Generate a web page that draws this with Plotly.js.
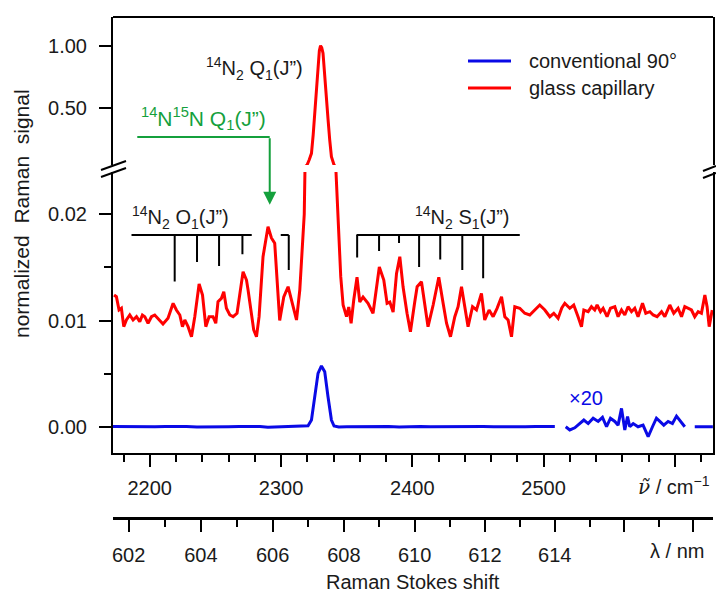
<!DOCTYPE html>
<html><head><meta charset="utf-8">
<script src="https://cdn.plot.ly/plotly-3.0.1.min.js"></script>
<style>html,body{margin:0;padding:0;background:#fff}</style>
</head><body><div id="chart" style="width:716px;height:592px"></div>
<script>
// ---------- data ----------
const redNu = [
2172.8,2174.6,2176.6,2178.4,2180.2,2182.2,2184.8,2187.3,2189.9,2192.4,
2194.4,2196.2,2198.7,2201.3,2203.8,2207.1,2210.1,2213.9,2217.8,2220.3,
2222.9,2224.9,2226.7,2229.2,2231.8,2234.3,2237.6,2240.2,2242.7,2245.2,
2248.2,2250.3,2252.0,2254.6,2256.4,2258.4,2261.0,2263.5,2266.5,2271.1,
2273.7,2274.9,2277.5,2279.2,2281.3,2283.3,2286.3,2290.1,2292.7,2295.2,
2299.0,2302.1,2305.4,2308.7,2311.8,2314.3,2316.2,2317.7,2319.0,2319.9,
2321.5,2323.2,2324.5,2325.7,2327.0,2328.2,2329.2,2330.1,2331.0,2332.0,
2333.3,2334.6,2335.8,2337.1,2338.4,2340.4,2341.7,2343.6,2345.5,2347.3,
2349.9,2351.6,2353.4,2355.4,2357.9,2360.0,2362.5,2366.3,2370.1,2374.9,
2378.3,2380.8,2382.9,2385.4,2388.0,2390.5,2393.0,2396.0,2398.6,2401.9,
2403.7,2407.0,2409.5,2412.0,2415.9,2420.2,2423.5,2426.1,2429.1,2432.4,
2434.9,2437.5,2440.0,2442.5,2445.9,2448.9,2452.7,2455.2,2458.5,2461.6,
2464.6,2468.0,2470.5,2473.0,2475.6,2478.1,2481.9,2485.7,2489.5,2493.3,
2497.1,2501.0,2504.8,2507.8,2511.1,2513.9,2516.2,2520.0,2523.0,2526.3,
2528.9,2530.7,2534.0,2536.5,2539.0,2540.8,2543.4,2545.4,2548.4,2551.0,
2554.3,2556.8,2559.4,2561.9,2564.4,2567.0,2569.5,2572.0,2575.4,2577.9,
2581.0,2583.5,2586.5,2589.9,2592.4,2596.2,2599.2,2602.5,2605.1,2607.6,
2610.2,2612.7,2615.2,2617.8,2620.3,2622.9,2624.6,2626.2,2628.5];
const redVal = [
0.01240,0.01224,0.01099,0.01115,0.00942,0.01005,0.01052,0.01005,0.01036,0.00989,
0.01052,0.01036,0.00974,0.01036,0.01052,0.01005,0.00967,0.01021,0.01162,0.01099,
0.01052,0.00942,0.01005,0.00942,0.00847,0.01036,0.01344,0.01240,0.00942,0.01036,
0.01036,0.00974,0.01177,0.01209,0.01271,0.01115,0.01052,0.01036,0.01068,0.01459,
0.01381,0.01287,0.01036,0.00911,0.00847,0.01036,0.01601,0.01883,0.01777,0.01727,
0.01000,0.01221,0.01318,0.01162,0.01005,0.01287,0.01660,0.02000,0.03000,0.04000,
0.080,0.132,0.280,0.455,0.660,0.858,0.960,1.000,0.985,0.940,
0.780,0.589,0.410,0.240,0.105,0.038,0.0245,0.0190,0.01413,0.01146,
0.01036,0.01127,0.00974,0.01193,0.01407,0.01174,0.01221,0.01162,0.01068,0.01504,
0.01381,0.01162,0.01174,0.01080,0.01444,0.01601,0.01315,0.01068,0.00895,0.01177,
0.01318,0.01365,0.01162,0.00942,0.01146,0.01407,0.01162,0.00974,0.00847,0.01036,
0.01130,0.01318,0.01130,0.00942,0.01130,0.01099,0.01256,0.01005,0.01099,0.01036,
0.01115,0.01224,0.01036,0.01005,0.00847,0.01130,0.01115,0.01068,0.01052,0.01099,
0.01146,0.01099,0.01036,0.01068,0.01021,0.01118,0.01162,0.01115,0.01146,0.01036,
0.00942,0.01099,0.01083,0.01130,0.01099,0.01146,0.01083,0.01115,0.01036,0.01115,
0.01130,0.01036,0.01099,0.01052,0.01130,0.01083,0.01115,0.01036,0.01162,0.01068,
0.01083,0.01052,0.01036,0.01083,0.01036,0.01146,0.01068,0.01115,0.01036,0.01130,
0.01115,0.01099,0.01036,0.01083,0.01068,0.01240,0.01130,0.00942,0.01099];

const blueNu = [2172,2180,2188,2196,2204,2212,2220,2228,2236,2244,
2252,2260,2268,2276,2284,2290,2296,2302,2308,2314,
2318,2320.6,2323.2,2325.7,2328.2,2330.8,2333.3,2335.8,2338.4,2340.4,
2344,2350,2358,2366,2374,2382,2390,2398,2406,2414,
2422,2430,2438,2446,2454,2462,2470,2478,2486,2494,
2502,2508.6];
const blueVal = [0.00002,0,0.00003,-0.00002,0.00001,0.00003,-0.00001,0.00002,-0.00002,0.00001,
-0.00002,0.00001,0.00002,0.00004,0.00003,-0.00004,-0.00001,-0.00003,0,0.00002,
0.00005,0.0001,0.00063,0.00283,0.00503,0.00572,0.00518,0.00283,0.00063,0.00007,
-0.00003,0,0.00002,-0.00001,0.00001,0.00003,-0.00002,0.00001,0.00002,-0.00001,
0.00001,0.00002,-0.00002,0,0.00002,0.00001,-0.00001,0.00002,0.00001,0.00003,
0.00002,0.00002];
// segment shown magnified x20 (values as displayed)
const blueX20Nu = [2516.9,2520.0,2523.8,2527.6,2530.7,2534.0,2537.8,2541.6,2544.9,2548.0,
2551.0,2554.3,2556.8,2559.4,2561.9,2564.0,2565.7,2568.3,2572.0,2575.8,
2579.7,2583.0,2586.0,2588.6,2591.6,2594.9,2598.2,2601.3,2604.3,2607.6];
const blueX20Val = [0,-0.0003,-0.0001,0.0003,0.00063,0.0003,0.0008,0.0005,0.00088,0,
0.0008,0.0005,0.00015,0.00173,-0.0003,0.00095,0,0.0003,0,0.00015,
-0.00094,0,0.0008,0.0005,0.00015,0.0005,0.0003,0.001,0.0005,0];
const blueTailNu = [2615.2,2621,2629];
const blueTailVal = [0,0.00002,0];

const wnTicks = [2200,2300,2400,2500,2600];
const wnTickText = ['2200','2300','2400','2500',''];
const nmTicks = [602,604,606,608,610,612,614,616,618];
const nmTickText = ['602','604','606','608','610','612','614','',''];
const nmMinor = [603,605,607,609,611,613,615,617];
const laserNm = 532.05;

const lowTicks = [0,0.01,0.02], lowTickText = ['0.00','0.01','0.02'], lowMinor = [0.005,0.015];
const upTicks = [0.5,1.0], upTickText = ['0.50','1.00'];

// rotational line markers
const combLevel = 0.01805;
const oLines = [2219.0,2236.0,2252.8,2270.6,2305.9];
const oEnds  = [0.01368,0.01550,0.01512,0.01623,0.01475];
const oSpans = [[2186.1,2277.7],[2299.8,2305.9]];
const sLines = [2358.0,2374.7,2389.9,2405.2,2421.3,2438.1,2454.0];
const sEnds  = [0.01592,0.01654,0.01729,0.01503,0.01575,0.01475,0.01398];
const sSpans = [[2357.5,2481.9]];
const arrowStartNu = 2190.5, arrowNu = 2291.4, arrowLevel = 0.2637, arrowTip = 0.0209;

// ---------- layout helpers ----------
const L = 113, T = 17, W = 600, H = 501;
const px2x = p => (p - L) / W;
const py2y = p => (T + H - p) / H;
const FONT = 'Liberation Sans, Arial, sans-serif';
const RED = '#ff0000', BLUE = '#0a0ae6', GREEN = '#14a03c', INK = '#1a1a1a';

const nu2 = lam => 1e7 / laserNm - 1e7 / lam;

const bx = blueNu.concat([2512], blueX20Nu, [2611], blueTailNu);
const by = blueVal.concat([null], blueX20Val, [null], blueTailVal);

const traces = [
  {x: redNu, y: redVal, xaxis: 'x', yaxis: 'y', mode: 'lines', line: {color: RED, width: 3}, name: 'glass capillary', hoverinfo: 'skip'},
  {x: redNu, y: redVal, xaxis: 'x', yaxis: 'y2', mode: 'lines', line: {color: RED, width: 3}, showlegend: false, hoverinfo: 'skip'},
  {x: bx, y: by, xaxis: 'x', yaxis: 'y', mode: 'lines', connectgaps: false, line: {color: BLUE, width: 3}, name: 'conventional 90°', hoverinfo: 'skip'},
  {x: [2300], y: [null], xaxis: 'x2', yaxis: 'y', mode: 'lines', showlegend: false, hoverinfo: 'skip'}
];

const blk = {color: 'black', width: 2};
const shapes = [];
shapes.push({type: 'line', xref: 'paper', yref: 'paper', x0: 0, x1: 1, y0: 1, y1: 1, line: blk});
const seg = (x0, y0, x1, y1, col, w) => ({type: 'line', xref: 'paper', yref: 'paper',
  x0: px2x(x0), y0: py2y(y0), x1: px2x(x1), y1: py2y(y1), line: {color: col || 'black', width: w || 2}});
// axis break marks
shapes.push(seg(101, 170, 126, 161), seg(101, 177, 126, 168));
shapes.push(seg(703, 171, 716, 166), seg(703, 178, 716, 173));
// comb markers
oSpans.concat(sSpans).forEach(s => shapes.push({type: 'line', xref: 'x', yref: 'y', x0: s[0], x1: s[1], y0: combLevel, y1: combLevel, line: blk}));
oLines.forEach((v, i) => shapes.push({type: 'line', xref: 'x', yref: 'y', x0: v, x1: v, y0: combLevel, y1: oEnds[i], line: blk}));
sLines.forEach((v, i) => shapes.push({type: 'line', xref: 'x', yref: 'y', x0: v, x1: v, y0: combLevel, y1: sEnds[i], line: blk}));
// green pointer horizontal part
shapes.push({type: 'line', xref: 'x', yref: 'y2', x0: arrowStartNu, x1: arrowNu, y0: arrowLevel, y1: arrowLevel, line: {color: GREEN, width: 2}});
// legend samples
shapes.push(seg(468, 61, 511, 61, BLUE, 3), seg(468, 88, 511, 88, RED, 3));

const txt = (text, x, y, xa, opts) => Object.assign({text: text, xref: 'paper', yref: 'paper', x: px2x(x), y: py2y(y),
  xanchor: xa, yanchor: 'middle', showarrow: false, font: {family: FONT, size: 20, color: INK}}, opts || {});

const annotations = [
  txt('conventional 90°', 527, 61, 'left'),
  txt('glass capillary', 527, 88, 'left'),
  txt('<sup>14</sup>N<sub>2</sub> Q<sub>1</sub>(J”)', 305, 68, 'right'),
  txt('<sup>14</sup>N<sup>15</sup>N Q<sub>1</sub>(J”)', 139, 118, 'left', {font: {family: FONT, size: 21, color: GREEN}}),
  txt('<sup>14</sup>N<sub>2</sub> O<sub>1</sub>(J”)', 130, 217, 'left'),
  txt('<sup>14</sup>N<sub>2</sub> S<sub>1</sub>(J”)', 413, 217, 'left'),
  txt('×20', 567, 398, 'left', {font: {family: FONT, size: 20, color: BLUE}}),
  txt('<span style="font-family:DejaVu Serif"><i>ν̃</i></span> / cm<sup>−1</sup>', 712, 486, 'right'),
  txt('λ / nm', 706, 551, 'right'),
  txt('Raman Stokes shift', 413, 582, 'center'),
  txt('normalized\u00a0 Raman\u00a0 signal', 22, 214, 'center', {textangle: -90, font: {family: FONT, size: 21, color: INK}}),
  {x: arrowNu, y: arrowTip, xref: 'x', yref: 'y', text: '', showarrow: true, ax: 0, ay: -68,
   arrowhead: 2, arrowsize: 1.3, arrowwidth: 2, arrowcolor: GREEN, standoff: 0}
];

const tickFont = {family: FONT, size: 20, color: INK};
const xr = [2172.0, 2629.1];
const layout = {
  width: 716, height: 592,
  margin: {l: L, r: 716 - L - W, t: T, b: 592 - T - H},
  paper_bgcolor: '#fff', plot_bgcolor: '#fff',
  showlegend: false,
  font: {family: FONT, size: 20, color: INK},
  xaxis: {range: xr, anchor: 'y', showgrid: false, zeroline: false, showline: true, linecolor: 'black', linewidth: 2,
    ticks: 'outside', ticklen: 12, tickwidth: 2, tickcolor: 'black', tickmode: 'array', tickvals: wnTicks, ticktext: wnTickText,
    tickfont: tickFont, ticklabelstandoff: 4,
    minor: {tickmode: 'linear', tick0: 2180, dtick: 20, ticks: 'outside', ticklen: 7, tickwidth: 2, tickcolor: 'black'}},
  xaxis2: {range: xr, overlaying: 'x', anchor: 'free', position: 0, side: 'bottom', showgrid: false, zeroline: false,
    showline: true, linecolor: 'black', linewidth: 3, ticks: 'outside', ticklen: 12, tickwidth: 2, tickcolor: 'black',
    tickmode: 'array', tickvals: nmTicks.map(nu2), ticktext: nmTickText, tickfont: tickFont, ticklabelstandoff: 6,
    minor: {tickmode: 'array', tickvals: nmMinor.map(nu2), ticks: 'outside', ticklen: 7, tickwidth: 2, tickcolor: 'black'}},
  yaxis: {domain: [py2y(453.3), py2y(172)], range: [-0.0025, 0.02398], anchor: 'x', showgrid: false, zeroline: false,
    showline: true, mirror: true, linecolor: 'black', linewidth: 2, ticks: 'outside', ticklen: 12, tickwidth: 2, tickcolor: 'black',
    tickmode: 'array', tickvals: lowTicks, ticktext: lowTickText, tickfont: tickFont, ticklabelstandoff: 8,
    minor: {tickmode: 'array', tickvals: lowMinor, ticks: 'outside', ticklen: 7, tickwidth: 2, tickcolor: 'black'}},
  yaxis2: {domain: [py2y(165), 1], range: [0.0379, 1.2315], anchor: 'x', showgrid: false, zeroline: false,
    showline: true, mirror: true, linecolor: 'black', linewidth: 2, ticks: 'outside', ticklen: 12, tickwidth: 2, tickcolor: 'black',
    tickmode: 'array', tickvals: upTicks, ticktext: upTickText, tickfont: tickFont, ticklabelstandoff: 8},
  shapes: shapes,
  annotations: annotations
};
Plotly.newPlot('chart', traces, layout, {displayModeBar: false, staticPlot: true});
</script></body></html>
